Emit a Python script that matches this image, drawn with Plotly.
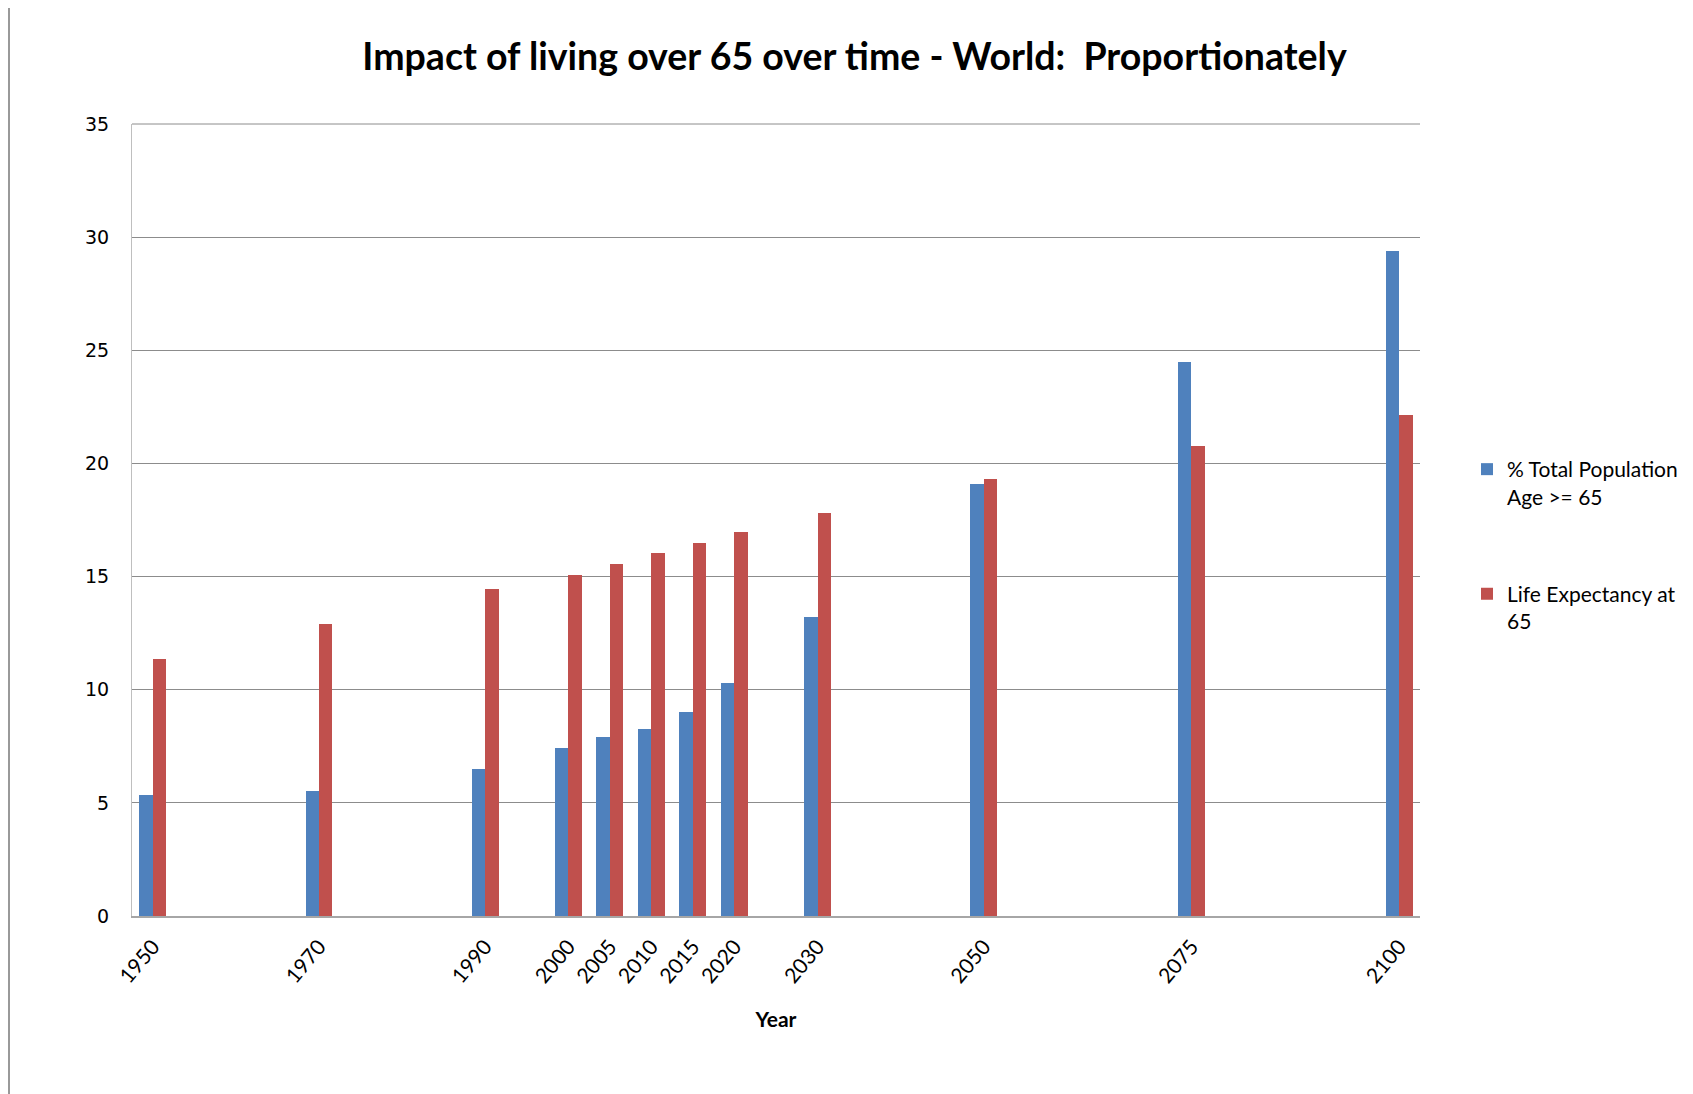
import plotly.graph_objects as go

years = [1950, 1970, 1990, 2000, 2005, 2010, 2015, 2020, 2030, 2050, 2075, 2100]
year_labels = [str(y) for y in years]
pct_pop_65 = [5.36, 5.53, 6.5, 7.41, 7.91, 8.26, 9.0, 10.3, 13.23, 19.1, 24.48, 29.39]
life_exp_65 = [11.34, 12.92, 14.46, 15.08, 15.54, 16.05, 16.48, 16.95, 17.81, 19.29, 20.75, 22.15]
series_names = ["% Total Population<br>Age >= 65", "Life Expectancy at<br>65"]
y_ticks = [0, 5, 10, 15, 20, 25, 30, 35]

BLUE = "#4F81BD"
RED = "#C0504D"
FONT = "Lato, sans-serif"

# plot area in figure pixels
L, T, R, B = 124, 116, 1412, 908
W, H = 1693, 1094
PW, PH = R - L, B - T

fig = go.Figure()
fig.add_trace(go.Bar(x=years, y=pct_pop_65, name=series_names[0], marker_color=BLUE,
                     marker_line_width=0, width=1.62, offset=-1.62, legendgroup="a"))
fig.add_trace(go.Bar(x=years, y=life_exp_65, name=series_names[1], marker_color=RED,
                     marker_line_width=0, width=1.62, offset=0, legendgroup="b"))

fig.update_layout(
    width=W, height=H,
    barmode="overlay",
    paper_bgcolor="white",
    plot_bgcolor="white",
    margin=dict(l=L, r=W - R, t=T, b=H - B, autoexpand=False),
    title=dict(text="<b>Impact of living over 65 over time - World:  Proportionately</b>",
               x=0.5, xref="container", xanchor="center",
               y=1 - 49 / H, yref="container", yanchor="middle",
               font=dict(family=FONT, size=37.5, color="black")),
    legend=dict(x=(1459 - L) / PW, xanchor="left", y=(B - 441) / PH, yanchor="top",
                font=dict(family=FONT, size=21, color="black"),
                valign="top", tracegroupgap=67, bgcolor="rgba(0,0,0,0)",
                itemwidth=30),
    shapes=[
        dict(type="line", xref="paper", yref="paper", x0=(1 - L) / PW, x1=(1 - L) / PW,
             y0=-0.3, y1=1.3, line=dict(color="#999999", width=2), layer="below"),
        dict(type="line", xref="paper", yref="paper", x0=0, x1=1, y0=1, y1=1,
             line=dict(color="#8C8C8C", width=1), layer="below"),
    ],
    bargap=0,
)
fig.update_xaxes(type="linear", range=[1947.5, 2102.5], tickmode="array",
                 tickvals=years, ticktext=year_labels, tickangle=-50,
                 tickfont=dict(family=FONT, size=21, color="black"),
                 showgrid=False, zeroline=False, showline=True, linecolor="#A6A6A6",
                 linewidth=2, ticks="", ticklabelstandoff=8,
                 title=dict(text="<b>Year</b>", font=dict(family=FONT, size=21, color="black"),
                            standoff=26))
fig.update_yaxes(range=[0, 35], tickmode="array", tickvals=y_ticks,
                 tickfont=dict(family="DejaVu Sans", size=19, color="black"),
                 showgrid=True, gridcolor="#8C8C8C", gridwidth=1, zeroline=False,
                 showline=True, linecolor="#BFBFBF", linewidth=1, ticks="",
                 ticklabelstandoff=18)

fig.write_html("out.html")
